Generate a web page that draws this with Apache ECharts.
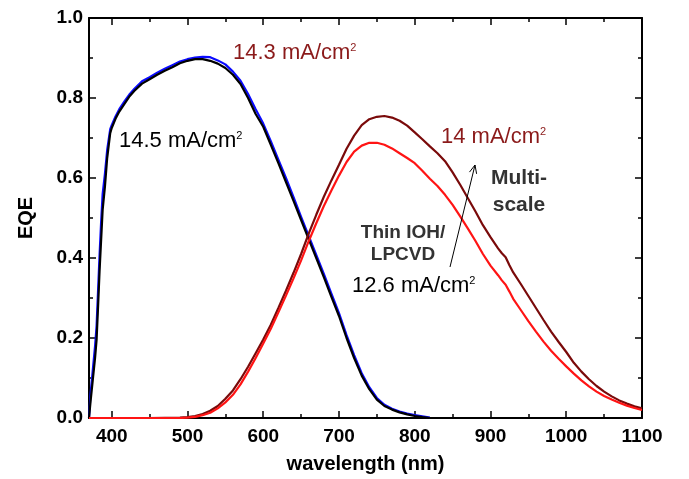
<!DOCTYPE html>
<html>
<head>
<meta charset="utf-8">
<script src="https://cdn.jsdelivr.net/npm/echarts@6/dist/echarts.min.js"></script>
<style>html,body{margin:0;padding:0;background:#fff}#c{width:689px;height:479px}</style>
</head>
<body>
<div id="c"></div>
<script>
// ---- data ----
const topWl = [370,372,375,378,380,382,384,386,388,391,394,398,400,405,410,417,423,430,440,450,460,470,480,490,500,510,520,530,540,550,560,570,580,590,600,610,620,630,640,650,660,670,680,690,700,710,720,730,740,750,760,770,780,790,800,810,820];
const blackEQE = [0,0.04,0.095,0.15,0.195,0.28,0.37,0.445,0.52,0.578,0.65,0.712,0.725,0.748,0.766,0.786,0.803,0.818,0.836,0.847,0.858,0.868,0.877,0.887,0.893,0.897,0.897,0.893,0.886,0.875,0.858,0.835,0.800,0.760,0.728,0.683,0.637,0.590,0.543,0.495,0.447,0.400,0.352,0.303,0.255,0.200,0.150,0.106,0.072,0.046,0.030,0.021,0.014,0.009,0.005,0.002,0];
const blueEQE = [0,0.06,0.12,0.18,0.23,0.32,0.41,0.49,0.56,0.61,0.67,0.722,0.732,0.754,0.772,0.792,0.808,0.823,0.842,0.852,0.863,0.873,0.882,0.891,0.897,0.901,0.903,0.902,0.894,0.884,0.866,0.843,0.810,0.772,0.736,0.692,0.646,0.600,0.552,0.503,0.455,0.408,0.360,0.311,0.262,0.207,0.157,0.112,0.077,0.050,0.033,0.023,0.016,0.011,0.007,0.004,0.001];
const botWl = [370,450,490,500,510,520,530,540,550,560,570,580,590,600,610,620,630,640,650,660,670,680,690,700,710,720,730,740,750,760,770,780,790,800,810,820,830,840,850,860,870,880,890,900,910,915,920,925,930,940,950,960,970,980,990,1000,1010,1020,1030,1040,1050,1060,1070,1080,1090,1100];
const multiEQE = [0,0,0.001,0.002,0.005,0.010,0.018,0.030,0.048,0.069,0.097,0.128,0.162,0.196,0.233,0.275,0.318,0.363,0.410,0.461,0.508,0.553,0.594,0.633,0.673,0.706,0.732,0.747,0.753,0.755,0.751,0.743,0.731,0.714,0.697,0.679,0.662,0.642,0.614,0.583,0.550,0.517,0.482,0.452,0.424,0.412,0.402,0.382,0.364,0.335,0.305,0.275,0.245,0.216,0.190,0.165,0.138,0.116,0.097,0.080,0.066,0.054,0.044,0.036,0.029,0.024];
const thinEQE = [0,0,0,0.001,0.003,0.007,0.013,0.024,0.039,0.058,0.084,0.116,0.150,0.186,0.223,0.264,0.306,0.349,0.394,0.442,0.487,0.530,0.569,0.606,0.640,0.666,0.681,0.688,0.688,0.683,0.674,0.662,0.650,0.637,0.618,0.598,0.580,0.558,0.533,0.504,0.474,0.443,0.410,0.381,0.357,0.344,0.333,0.316,0.298,0.270,0.242,0.216,0.191,0.168,0.148,0.129,0.111,0.094,0.079,0.066,0.055,0.046,0.038,0.031,0.025,0.020];
const xMajorTicks = [400,500,600,700,800,900,1000,1100];
const xMinorTicks = [450,550,650,750,850,950,1050];

// ---- chart ----
const FONT = 'Liberation Sans, Arial, sans-serif';
const chart = echarts.init(document.getElementById('c'), null, {renderer: 'canvas'});
const zip = (xs, ys) => xs.map((x, i) => [x, ys[i]]);

function xAx(position, major, labels) {
  return {
    type: 'value', min: 370, max: 1100, position: position,
    axisLine: {show: major, onZero: false, lineStyle: {color: '#000', width: 2}},
    axisTick: {show: true, inside: true, length: major ? 7 : 4, customValues: major ? xMajorTicks : xMinorTicks, lineStyle: {color: '#000', width: 1.5}},
    axisLabel: {show: labels, customValues: xMajorTicks, color: '#000', fontFamily: FONT, fontWeight: 'bold', fontSize: 19, margin: 9, formatter: v => String(v)},
    splitLine: {show: false},
    name: labels ? 'wavelength (nm)' : '', nameLocation: 'middle', nameGap: 36,
    nameTextStyle: {color: '#000', fontFamily: FONT, fontWeight: 'bold', fontSize: 20}
  };
}
function yAx(position, labels) {
  return {
    type: 'value', min: 0, max: 1, interval: 0.2, position: position,
    axisLine: {show: true, onZero: false, lineStyle: {color: '#000', width: 2}},
    axisTick: {show: true, inside: true, length: 7, lineStyle: {color: '#000', width: 1.5}},
    minorTick: {show: true, splitNumber: 2, length: 4, lineStyle: {color: '#000', width: 1.5}},
    axisLabel: {show: labels, color: '#000', fontFamily: FONT, fontWeight: 'bold', fontSize: 19, margin: 6, formatter: v => v.toFixed(1)},
    splitLine: {show: false}, minorSplitLine: {show: false},
    name: labels ? 'EQE' : '', nameLocation: 'middle', nameGap: 53,
    nameTextStyle: {color: '#000', fontFamily: FONT, fontWeight: 'bold', fontSize: 20}
  };
}
function line(data, color) {
  return {type: 'line', xAxisIndex: 0, yAxisIndex: 0, data: data, showSymbol: false, symbol: 'none',
    lineStyle: {color: color, width: 2.2}, itemStyle: {color: color}, z: 3, silent: true};
}
function label(x, y, main, color, size, weight, align) {
  return {type: 'text', x: x, y: y, z: 10, style: {
    text: '{m|' + main + '}{s|2}', textAlign: align || 'left', textVerticalAlign: 'middle',
    rich: {
      m: {fontSize: size, fontFamily: FONT, fontWeight: weight || 'normal', fill: color, lineHeight: size, verticalAlign: 'middle'},
      s: {fontSize: 11, fontFamily: FONT, fill: color, lineHeight: size, verticalAlign: 'top'}
    }}};
}
function plain(x, y, txt, color, size, align) {
  return {type: 'text', x: x, y: y, z: 10, style: {text: txt, fill: color, font: 'bold ' + size + 'px ' + FONT,
    textAlign: align || 'center', textVerticalAlign: 'middle'}};
}
// arrow
const tail = [450, 267], head = [475, 165];
const ang = Math.atan2(head[1] - tail[1], head[0] - tail[0]);
const L = 9, spread = 0.42;
const leg1 = [head[0] - L * Math.cos(ang - spread), head[1] - L * Math.sin(ang - spread)];
const leg2 = [head[0] - L * Math.cos(ang + spread), head[1] - L * Math.sin(ang + spread)];
const DARK = '#8b1a1a';

chart.setOption({
  animation: false,
  backgroundColor: '#fff',
  grid: {left: 89, right: 47, top: 18, bottom: 61, containLabel: false},
  xAxis: [xAx('bottom', true, true), xAx('bottom', false, false), xAx('top', true, false), xAx('top', false, false)],
  yAxis: [yAx('left', true), yAx('right', false)],
  series: [
    line(zip(topWl, blueEQE), '#0a0aff'),
    line(zip(topWl, blackEQE), '#000000'),
    line(zip(botWl, multiEQE), '#7a0a0a'),
    line(zip(botWl, thinEQE), '#ff1414')
  ],
  graphic: [
    label(233, 53, '14.3 mA/cm', DARK, 22),
    label(119, 141, '14.5 mA/cm', '#000', 22),
    label(441, 137, '14 mA/cm', DARK, 22),
    label(352, 286, '12.6 mA/cm', '#000', 22),
    plain(519, 178, 'Multi-', '#333', 21),
    plain(519, 205, 'scale', '#333', 21),
    plain(403, 233, 'Thin IOH/', '#333', 19),
    plain(403, 255, 'LPCVD', '#333', 19),
    {type: 'line', z: 10, shape: {x1: tail[0], y1: tail[1], x2: head[0], y2: head[1]}, style: {stroke: '#000', lineWidth: 1}},
    {type: 'polyline', z: 10, shape: {points: [leg1, head, leg2]}, style: {stroke: '#000', lineWidth: 1, fill: null}}
  ]
});
</script>
</body>
</html>
